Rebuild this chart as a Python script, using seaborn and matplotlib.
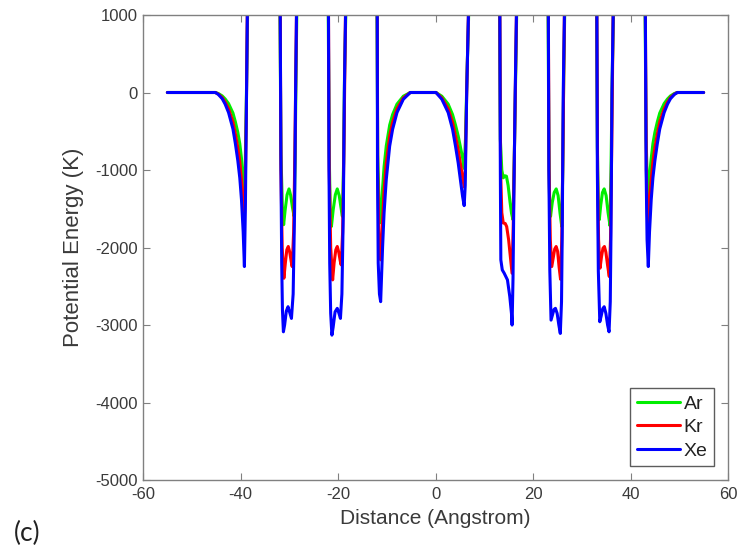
import matplotlib
matplotlib.use("Agg")
import matplotlib.pyplot as plt
import seaborn as sns
import pandas as pd

# ---------------- data ----------------
series_names = ["Ar", "Kr", "Xe"]
series_colors = ["#00ee00", "#ff0000", "#0000ff"]

x_ticks = [-60, -40, -20, 0, 20, 40, 60]
y_ticks = [-5000, -4000, -3000, -2000, -1000, 0, 1000]

xe_x = [-55, -45.15, -44.55, -43.75, -43.15, -42.45, -41.55, -41.05, -40.55, -40.15, -39.8, -39.45, -39.2, -39.0, -38.8, -38.6, -38.55,
        -31.95, -31.85, -31.7, -31.55, -31.4, -31.2, -30.95, -30.6, -30.25, -29.9, -29.55, -29.2, -28.9, -28.7, -28.5, -28.45,
        -22.05, -21.95, -21.85, -21.7, -21.5, -21.25, -21.0, -20.6, -20.15, -19.8, -19.5, -19.2, -18.9, -18.7, -18.45, -18.4,
        -12.0, -11.95, -11.9, -11.75, -11.5, -11.25, -11.1, -10.85, -10.55, -10.1, -9.4, -8.8, -7.9, -6.6, -5.17,
        0.1, 1.3, 2.6, 3.5, 4.1, 4.65, 5.1, 5.55, 5.88, 6.1, 6.4, 6.75, 6.8,
        13.15, 13.2, 13.3, 13.4, 13.7, 14.08, 14.76, 15.24, 15.58, 15.71, 15.9, 16.1, 16.35, 16.6, 16.65,
        23.1, 23.15, 23.25, 23.45, 23.7, 24.0, 24.3, 24.6, 24.95, 25.3, 25.6, 25.85, 26.0, 26.2, 26.45, 26.5,
        33.05, 33.1, 33.2, 33.4, 33.7, 34.0, 34.3, 34.6, 34.95, 35.3, 35.6, 35.85, 36.0, 36.2, 36.45, 36.5,
        43.0, 43.05, 43.2, 43.4, 43.65, 43.9, 44.25, 44.6, 45.0, 45.5, 46.0, 46.9, 47.6, 48.2, 49.0, 49.6, 55]
xe_y = [0, 0, -25, -80, -150, -259, -470, -660, -880, -1100, -1382, -1800, -2246, -1500, -300, 1000, 1500,
        1500, 1000, -1000, -2200, -2800, -3088, -3000, -2820, -2764, -2840, -2915, -2600, -1500, 0, 1000, 1500,
        1500, 1000, -1000, -2200, -2850, -3131, -3030, -2830, -2785, -2850, -2915, -2600, -1500, 0, 1000, 1500,
        1500, 1000, -1000, -2200, -2600, -2699, -2418, -1987, -1554, -1123, -691, -475, -259, -87, 0,
        0, -87, -259, -475, -691, -907, -1123, -1339, -1460, -1200, 0, 1000, 1500,
        1500, 1000, -1000, -2159, -2290, -2330, -2418, -2634, -2850, -3001, -2400, -1200, 0, 1000, 1500,
        1500, 1000, -1000, -2300, -2937, -2870, -2800, -2785, -2850, -3000, -3109, -2700, -1800, 0, 1000, 1500,
        1500, 1000, -1000, -2300, -2958, -2880, -2790, -2764, -2850, -3000, -3088, -2700, -1800, 0, 1000, 1500,
        1500, 1000, -1000, -1900, -2246, -1800, -1382, -1100, -880, -660, -470, -259, -150, -80, -25, 0, 0]

kr_x = [-55, -45.15, -44.55, -43.75, -43.15, -42.45, -41.55, -41.05, -40.55, -40.15, -39.8, -39.5, -39.3, -39.05, -38.8, -38.6, -38.55,
        -31.95, -31.85, -31.7, -31.45, -31.1, -30.8, -30.5, -30.2, -29.9, -29.6, -29.4, -29.1, -28.85, -28.5, -28.45,
        -22.05, -21.95, -21.8, -21.5, -21.1, -20.8, -20.45, -20.15, -19.85, -19.55, -19.35, -19.05, -18.8, -18.45, -18.4,
        -12.0, -11.95, -11.85, -11.6, -11.25, -11.1, -10.85, -10.55, -10.1, -9.4, -8.8, -7.9, -6.6, -5.17,
        0.1, 1.3, 2.6, 3.5, 4.1, 4.65, 5.1, 5.55, 5.88, 6.1, 6.4, 6.75, 6.8,
        13.15, 13.2, 13.35, 13.6, 13.9, 14.3, 14.6, 15.0, 15.4, 15.7, 15.95, 16.2, 16.6, 16.65,
        23.1, 23.15, 23.3, 23.55, 23.85, 24.15, 24.45, 24.75, 25.05, 25.35, 25.65, 25.9, 26.15, 26.45, 26.5,
        33.05, 33.1, 33.25, 33.45, 33.75, 34.05, 34.35, 34.65, 34.95, 35.3, 35.65, 35.9, 36.15, 36.45, 36.5,
        43.0, 43.05, 43.25, 43.45, 43.6, 43.85, 44.25, 44.6, 45.0, 45.5, 46.0, 46.9, 47.6, 48.2, 49.0, 49.6, 55]
kr_y = [0, 0, -20, -65, -122, -210, -380, -535, -713, -890, -1120, -1460, -1813, -1300, -250, 1000, 1500,
        1500, 1000, -1000, -2000, -2397, -2200, -2030, -1987, -2060, -2180, -2246, -1800, -800, 1000, 1500,
        1500, 1000, -1000, -2000, -2418, -2200, -2030, -1987, -2060, -2170, -2224, -1800, -800, 1000, 1500,
        1500, 1000, -1000, -1900, -2159, -1960, -1610, -1260, -910, -560, -385, -210, -70, 0,
        0, -70, -210, -385, -560, -735, -910, -1085, -1220, -1000, 0, 1000, 1500,
        1500, 1000, -1000, -1550, -1684, -1690, -1730, -1900, -2150, -2332, -1700, -700, 1000, 1500,
        1500, 1000, -1000, -1900, -2246, -2130, -2020, -1987, -2050, -2250, -2410, -1900, -700, 1000, 1500,
        1500, 1000, -1000, -1900, -2267, -2120, -2010, -1987, -2060, -2230, -2375, -1900, -700, 1000, 1500,
        1500, 1000, -1000, -1550, -1813, -1460, -1120, -890, -713, -535, -380, -210, -122, -65, -20, 0, 0]

ar_x = [-55, -45.15, -44.55, -43.75, -43.15, -42.45, -41.55, -41.05, -40.55, -40.15, -39.8, -39.5, -39.3, -39.05, -38.8, -38.55, -38.5,
        -32.0, -31.9, -31.7, -31.4, -31.15, -30.85, -30.45, -30.05, -29.7, -29.35, -29.0, -28.8, -28.6, -28.45, -28.4,
        -22.1, -22.0, -21.8, -21.6, -21.35, -21.0, -20.55, -20.15, -19.75, -19.4, -19.1, -18.85, -18.65, -18.4, -18.35,
        -12.05, -12.0, -11.85, -11.55, -11.25, -11.1, -10.85, -10.55, -10.1, -9.4, -8.8, -7.9, -6.6, -5.17,
        0.1, 1.3, 2.6, 3.5, 4.1, 4.65, 5.1, 5.55, 5.88, 6.15, 6.45, 6.8, 6.85,
        13.1, 13.15, 13.3, 13.6, 13.9, 14.25, 14.55, 14.9, 15.3, 15.6, 15.9, 16.15, 16.45, 16.65, 16.7,
        23.05, 23.1, 23.25, 23.4, 23.6, 23.95, 24.35, 24.76, 25.15, 25.55, 25.9, 26.1, 26.3, 26.5, 26.55,
        33.0, 33.05, 33.2, 33.4, 33.6, 33.9, 34.25, 34.6, 35.0, 35.4, 35.8, 36.0, 36.25, 36.5, 36.55,
        42.95, 43.0, 43.2, 43.45, 43.6, 43.85, 44.25, 44.6, 45.0, 45.5, 46.0, 46.9, 47.6, 48.2, 49.0, 49.6, 55]
ar_y = [0, 0, -13, -44, -83, -143, -265, -380, -515, -660, -850, -1120, -1400, -1000, -100, 1000, 1500,
        1500, 1000, -800, -1500, -1706, -1520, -1320, -1244, -1330, -1480, -1598, -900, 300, 1000, 1500,
        1500, 1000, -800, -1500, -1728, -1520, -1320, -1244, -1330, -1480, -1598, -900, 300, 1000, 1500,
        1500, 1000, -800, -1500, -1680, -1500, -1230, -960, -690, -420, -285, -150, -48, 0,
        0, -48, -150, -285, -420, -560, -700, -840, -980, -600, 200, 1000, 1500,
        1500, 1000, -600, -1000, -1101, -1075, -1080, -1200, -1420, -1560, -1641, -900, 200, 1000, 1500,
        1500, 1000, -700, -1400, -1598, -1420, -1290, -1244, -1330, -1560, -1728, -1000, 200, 1000, 1500,
        1500, 1000, -700, -1450, -1641, -1450, -1290, -1244, -1330, -1550, -1720, -1000, 200, 1000, 1500,
        1500, 1000, -600, -1150, -1400, -1120, -850, -660, -515, -380, -265, -143, -83, -44, -13, 0, 0]

# ---------------- build long-form table ----------------
frames = []
for name, xs, ys in [("Ar", ar_x, ar_y), ("Kr", kr_x, kr_y), ("Xe", xe_x, xe_y)]:
    frames.append(pd.DataFrame({"x": xs, "y": ys, "gas": name}))
df = pd.concat(frames, ignore_index=True)

# ---------------- plot ----------------
sns.set_style("white")
plt.rcParams["font.family"] = ["Liberation Sans", "DejaVu Sans"]

fig = plt.figure(figsize=(7.41, 5.52), dpi=100)
ax = fig.add_axes([143 / 741, 72 / 552, 585 / 741, 465 / 552])

sns.lineplot(data=df, x="x", y="y", hue="gas", hue_order=series_names,
             palette=dict(zip(series_names, series_colors)),
             sort=False, estimator=None, linewidth=2.2, ax=ax)

ax.set_xlim(-60, 60)
ax.set_ylim(-5000, 1000)
ax.set_xticks(x_ticks)
ax.set_yticks(y_ticks)
ax.set_xticklabels([str(v) for v in x_ticks])
ax.set_yticklabels([str(v) for v in y_ticks])

spine_col = "#808080"
text_col = "#3a3a3a"
for s in ax.spines.values():
    s.set_visible(True)
    s.set_color(spine_col)
    s.set_linewidth(1.0)
ax.tick_params(direction="in", length=5, width=0.8, color=spine_col,
               labelsize=12, labelcolor=text_col, top=True, right=True,
               bottom=True, left=True)
ax.tick_params(axis="x", pad=5)
ax.tick_params(axis="y", pad=4)
ax.set_xlabel("Distance (Angstrom)", fontsize=15, color=text_col, labelpad=5)
ax.set_ylabel("Potential Energy (K)", fontsize=16, color=text_col, labelpad=8)

handles, labels = ax.get_legend_handles_labels()
leg = ax.legend(handles, labels, loc="lower right", frameon=True, fancybox=False,
                fontsize=14, handlelength=2.2, handletextpad=0.2, labelspacing=0.3,
                borderpad=0.35, borderaxespad=0.7)
leg.get_frame().set_edgecolor("#333333")
leg.get_frame().set_linewidth(1.0)
for line in leg.get_lines():
    line.set_linewidth(2.2)
for t in leg.get_texts():
    t.set_color("#222222")

fig.text(14 / 741, 1 - 533 / 552, "(c)", fontsize=19, family=["Lato", "DejaVu Sans"],
         va="center", ha="left", color="#222222")

fig.savefig("out.png", dpi=100)
